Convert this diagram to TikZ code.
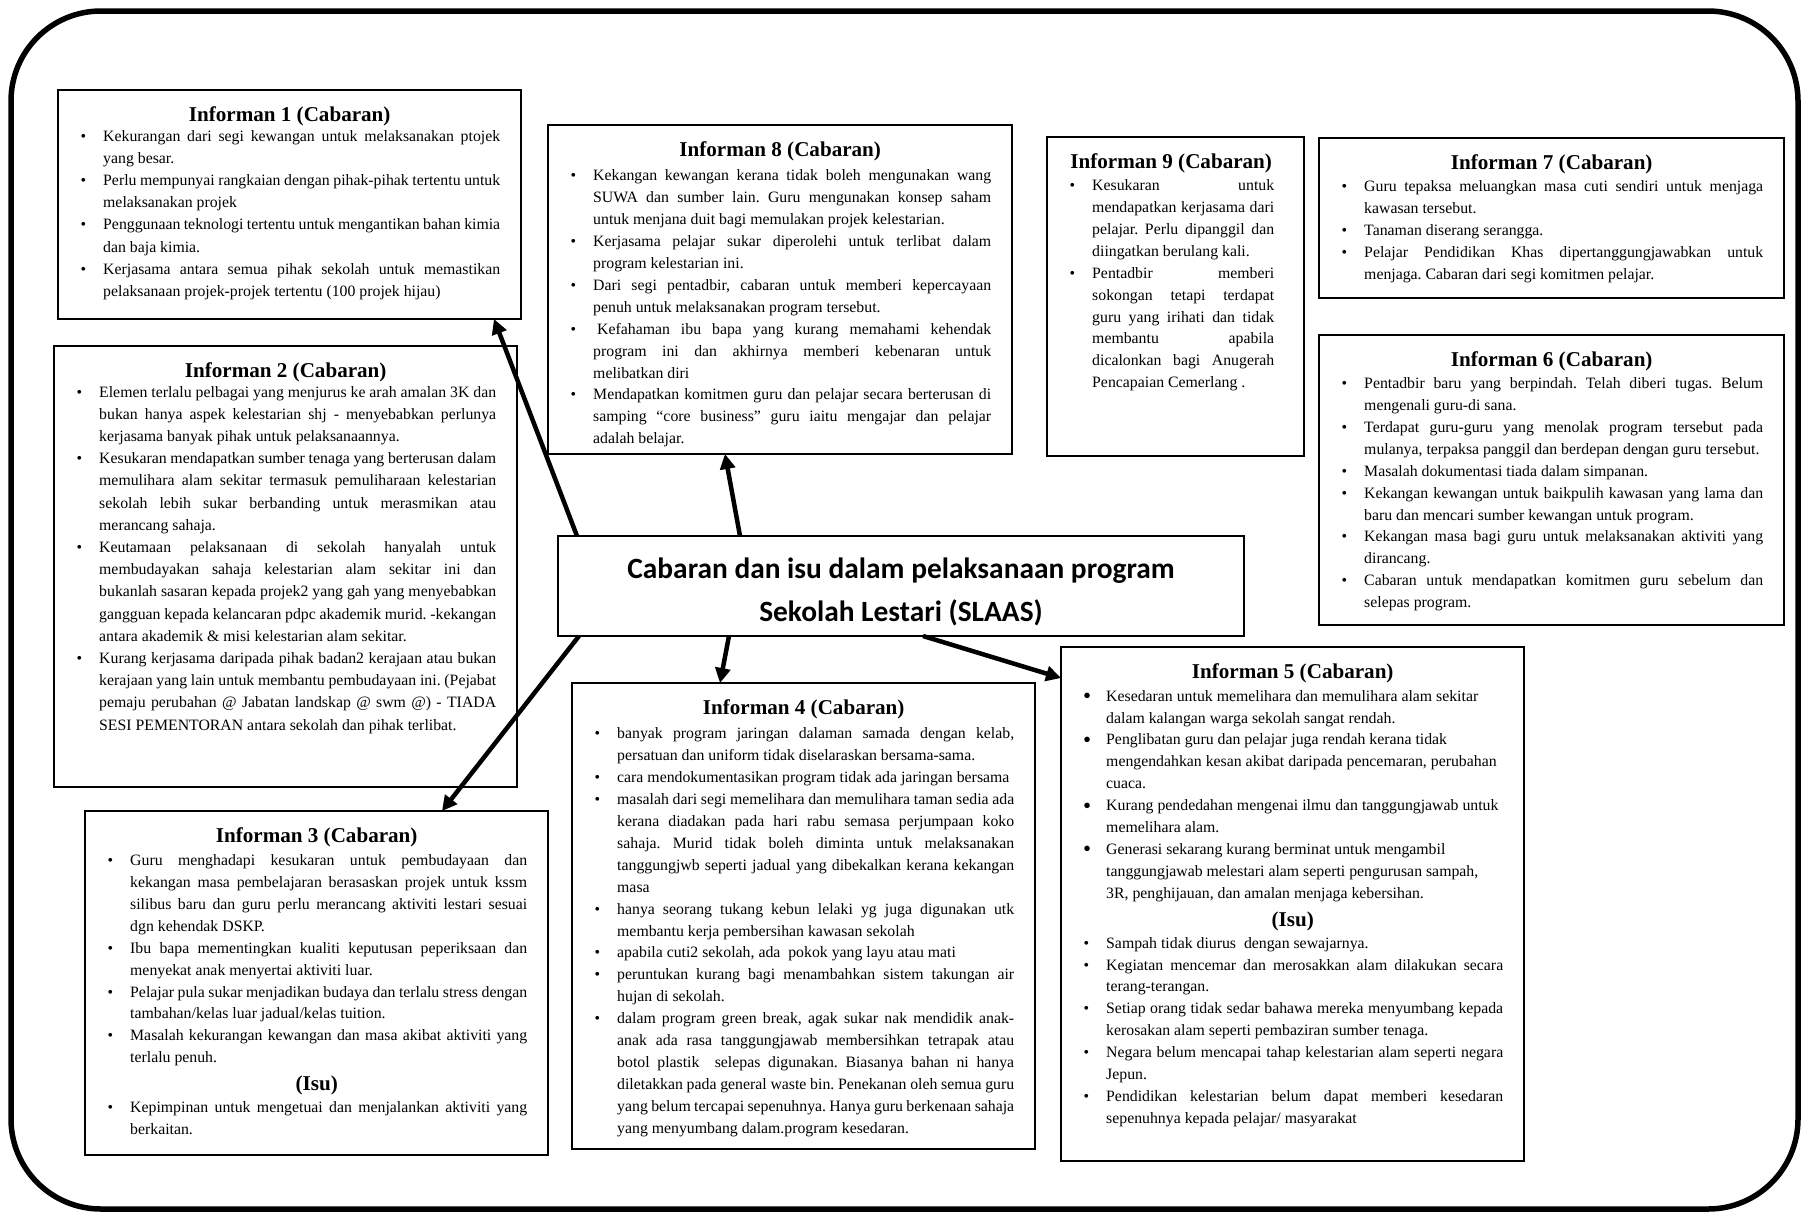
\documentclass[tikz,border=0pt]{standalone}
\usepackage{fontspec}
\setmainfont{Liberation Serif}
\newfontfamily\calib{Carlito}
\usetikzlibrary{arrows.meta}
\newcommand{\LB}{\linebreak}
\newcommand{\bodyset}{\frenchspacing\parindent=0pt\parskip=0pt\pretolerance=10000\tolerance=10000\hbadness=10000\hyphenpenalty=10000}
\newcommand{\bodyfont}{\fontsize{15.8}{21.9}\selectfont\bodyset}
\newcommand{\bodyfontB}{\fontsize{15.8}{22.2}\selectfont\bodyset}
\newenvironment{blist}{\begin{list}{\textbullet}{\setlength{\leftmargin}{24pt}\setlength{\labelwidth}{24pt}\setlength{\labelsep}{0pt}\setlength{\itemsep}{0pt}\setlength{\parsep}{0pt}\setlength{\topsep}{0pt}\setlength{\partopsep}{0pt}\setlength{\itemindent}{0pt}\renewcommand{\makelabel}[1]{\hspace{1.5pt}##1\hfil}}}{\end{list}}
\newenvironment{clist}{\begin{list}{\raisebox{-2.5pt}{\fontsize{23}{23}\selectfont\textbullet}}{\setlength{\leftmargin}{24pt}\setlength{\labelwidth}{24pt}\setlength{\labelsep}{0pt}\setlength{\itemsep}{0pt}\setlength{\parsep}{0pt}\setlength{\topsep}{0pt}\setlength{\partopsep}{0pt}\setlength{\itemindent}{0pt}\renewcommand{\makelabel}[1]{\hspace{1pt}##1\hfil}}}{\end{list}}
\newcommand{\ttl}[2][1pt]{\setlength{\linewidth}{\hsize}\setlength{\textwidth}{\hsize}\setlength{\columnwidth}{\hsize}\par{\centering\fontsize{21.1}{24}\selectfont\bfseries\rule{0pt}{15pt}#2\par}\vspace{#1}}
\newcommand{\isu}{{\centering\fontsize{21.1}{28}\selectfont\bfseries (Isu)\par}}
\begin{document}
\begin{tikzpicture}[x=1pt,y=-1pt,
  frame/.style={draw, line width=1.8pt, anchor=north west, inner sep=0pt, outer sep=0pt},
  txt/.style={anchor=north west, inner sep=0pt, align=justify, font=\bodyfont},
  arr/.style={line width=4.5pt, -{Triangle[length=15pt,width=15pt]}}]
\useasboundingbox (0,0) rectangle (1809,1216);
\fill[white] (0,0) rectangle (1809,1216);
\draw[line width=5.5pt, rounded corners=90pt] (11,11) rectangle (1798,1209);

% frames
\node[frame, minimum width=463pt, minimum height=229pt] (i1) at (58,90) {};
\node[frame, minimum width=463pt, minimum height=441pt] (i2) at (54,346) {};
\node[frame, minimum width=463pt, minimum height=344pt] (i3) at (85,811) {};
\node[frame, minimum width=464pt, minimum height=329pt] (i8) at (548,125) {};
\node[frame, minimum width=257pt, minimum height=319pt] (i9) at (1047,137) {};
\node[frame, minimum width=465pt, minimum height=160pt] (i7) at (1319,138) {};
\node[frame, minimum width=465pt, minimum height=290pt] (i6) at (1319,335) {};
\node[frame, minimum width=463pt, minimum height=466pt] (i4) at (572,683) {};
\node[frame, minimum width=463pt, minimum height=514pt] (i5) at (1061,647) {};
\node[frame, minimum width=686pt, minimum height=100pt] (c) at (558,536) {};
\node[font=\calib\bfseries\fontsize{29.4}{43}\selectfont, align=center] (ct) at ([yshift=-6pt]c.center) {Cabaran dan isu dalam pelaksanaan program\\Sekolah Lestari (SLAAS)};

% texts
\node[txt, font=\bodyfontB, text width=421pt] (t1) at ([xshift=21pt,yshift=-7pt]i1.north west) {\ttl[-2.3pt]{Informan 1 (Cabaran)}
\begin{blist}
\item Kekurangan dari segi kewangan untuk melaksanakan ptojek\LB yang besar.
\item Perlu mempunyai rangkaian dengan pihak-pihak tertentu untuk\LB melaksanakan projek
\item Penggunaan teknologi tertentu untuk mengantikan bahan kimia\LB dan baja kimia.
\item Kerjasama antara semua pihak sekolah untuk memastikan\LB pelaksanaan projek-projek tertentu (100 projek hijau)
\end{blist}};

\node[txt, font=\bodyfontB, text width=421pt] (t2) at ([xshift=21pt,yshift=-7pt]i2.north west) {\ttl[-2.3pt]{Informan 2 (Cabaran)}
\begin{blist}
\item Elemen terlalu pelbagai yang menjurus ke arah amalan 3K dan\LB bukan hanya aspek kelestarian shj - menyebabkan perlunya\LB kerjasama banyak pihak untuk pelaksanaannya.
\item Kesukaran mendapatkan sumber tenaga yang berterusan dalam\LB memulihara alam sekitar termasuk pemuliharaan kelestarian\LB sekolah lebih sukar berbanding untuk merasmikan atau\LB merancang sahaja.
\item Keutamaan pelaksanaan di sekolah hanyalah untuk\LB membudayakan sahaja kelestarian alam sekitar ini dan\LB bukanlah sasaran kepada projek2 yang gah yang menyebabkan\LB gangguan kepada kelancaran pdpc akademik murid. -kekangan\LB antara akademik \& misi kelestarian alam sekitar.
\item Kurang kerjasama daripada pihak badan2 kerajaan atau bukan\LB kerajaan yang lain untuk membantu pembudayaan ini. (Pejabat\LB pemaju perubahan @ Jabatan landskap @ swm @) - TIADA\LB SESI PEMENTORAN antara sekolah dan pihak terlibat.
\end{blist}};

\node[txt, text width=421pt] (t3) at ([xshift=21pt,yshift=-7pt]i3.north west) {\ttl[1.5pt]{Informan 3 (Cabaran)}
\begin{blist}
\item Guru menghadapi kesukaran untuk pembudayaan dan\LB kekangan masa pembelajaran berasaskan projek untuk kssm\LB silibus baru dan guru perlu merancang aktiviti lestari sesuai\LB dgn kehendak DSKP.
\item Ibu bapa mementingkan kualiti keputusan peperiksaan dan\LB menyekat anak menyertai aktiviti luar.
\item Pelajar pula sukar menjadikan budaya dan terlalu stress dengan\LB tambahan/kelas luar jadual/kelas tuition.
\item Masalah kekurangan kewangan dan masa akibat aktiviti yang\LB terlalu penuh.
\end{blist}
\isu
\begin{blist}
\item Kepimpinan untuk mengetuai dan menjalankan aktiviti yang\LB berkaitan.
\end{blist}};

\node[txt, text width=422pt] (t8) at ([xshift=21pt,yshift=-7pt]i8.north west) {\ttl[2.8pt]{Informan 8 (Cabaran)}
\begin{blist}
\item Kekangan kewangan kerana tidak boleh mengunakan wang\LB SUWA dan sumber lain. Guru mengunakan konsep saham\LB untuk menjana duit bagi memulakan projek kelestarian.
\item Kerjasama pelajar sukar diperolehi untuk terlibat dalam\LB program kelestarian ini.
\item Dari segi pentadbir, cabaran untuk memberi kepercayaan\LB penuh untuk melaksanakan program tersebut.
\item \hspace{4pt}Kefahaman ibu bapa yang kurang memahami kehendak\LB program ini dan akhirnya memberi kebenaran untuk\LB melibatkan diri
\item Mendapatkan komitmen guru dan pelajar secara berterusan di\LB samping “core business” guru iaitu mengajar dan pelajar\LB adalah belajar.
\end{blist}};

\node[txt, text width=206pt] (t9) at ([xshift=21pt,yshift=-7pt]i9.north west) {\ttl[0.5pt]{Informan 9 (Cabaran)}
\begin{blist}
\item Kesukaran untuk\LB mendapatkan kerjasama dari\LB pelajar. Perlu dipanggil dan\LB diingatkan berulang kali.
\item Pentadbir memberi\LB sokongan tetapi terdapat\LB guru yang irihati dan tidak\LB membantu apabila\LB dicalonkan bagi Anugerah\LB Pencapaian Cemerlang .
\end{blist}};

\node[txt, text width=423pt] (t7) at ([xshift=21pt,yshift=-7pt]i7.north west) {\ttl[0.5pt]{Informan 7 (Cabaran)}
\begin{blist}
\item Guru tepaksa meluangkan masa cuti sendiri untuk menjaga\LB kawasan tersebut.
\item Tanaman diserang serangga.
\item Pelajar Pendidikan Khas dipertanggungjawabkan untuk\LB menjaga. Cabaran dari segi komitmen pelajar.
\end{blist}};

\node[txt, text width=423pt] (t6) at ([xshift=21pt,yshift=-7pt]i6.north west) {\ttl[0.5pt]{Informan 6 (Cabaran)}
\begin{blist}
\item Pentadbir baru yang berpindah. Telah diberi tugas. Belum\LB mengenali guru-di sana.
\item Terdapat guru-guru yang menolak program tersebut pada\LB mulanya, terpaksa panggil dan berdepan dengan guru tersebut.
\item Masalah dokumentasi tiada dalam simpanan.
\item Kekangan kewangan untuk baikpulih kawasan yang lama dan\LB baru dan mencari sumber kewangan untuk program.
\item Kekangan masa bagi guru untuk melaksanakan aktiviti yang\LB dirancang.
\item Cabaran untuk mendapatkan komitmen guru sebelum dan\LB selepas program.
\end{blist}};

\node[txt, text width=421pt] (t4) at ([xshift=21pt,yshift=-7pt]i4.north west) {\ttl[2.8pt]{Informan 4 (Cabaran)}
\begin{blist}
\item banyak program jaringan dalaman samada dengan kelab,\LB persatuan dan uniform tidak diselaraskan bersama-sama.
\item cara mendokumentasikan program tidak ada jaringan bersama
\item masalah dari segi memelihara dan memulihara taman sedia ada\LB kerana diadakan pada hari rabu semasa perjumpaan koko\LB sahaja. Murid tidak boleh diminta untuk melaksanakan\LB tanggungjwb seperti jadual yang dibekalkan kerana kekangan\LB masa
\item hanya seorang tukang kebun lelaki yg juga digunakan utk\LB membantu kerja pembersihan kawasan sekolah
\item apabila cuti2 sekolah, ada\ \ pokok yang layu atau mati
\item peruntukan kurang bagi menambahkan sistem takungan air\LB hujan di sekolah.
\item dalam program green break, agak sukar nak mendidik anak-\LB anak ada rasa tanggungjawab membersihkan tetrapak atau\LB botol plastik\ \ selepas digunakan. Biasanya bahan ni hanya\LB diletakkan pada general waste bin. Penekanan oleh semua guru\LB yang belum tercapai sepenuhnya. Hanya guru berkenaan sahaja\LB yang menyumbang dalam.program kesedaran.
\end{blist}};

\node[txt, text width=421pt] (t5) at ([xshift=21pt,yshift=-7pt]i5.north west) {\ttl[1pt]{Informan 5 (Cabaran)}
\begin{clist}\raggedright
\item Kesedaran untuk memelihara dan memulihara alam sekitar\newline dalam kalangan warga sekolah sangat rendah.
\item Penglibatan guru dan pelajar juga rendah kerana tidak\newline mengendahkan kesan akibat daripada pencemaran, perubahan\newline cuaca.
\item Kurang pendedahan mengenai ilmu dan tanggungjawab untuk\newline memelihara alam.
\item Generasi sekarang kurang berminat untuk mengambil\newline tanggungjawab melestari alam seperti pengurusan sampah,\newline 3R, penghijauan, dan amalan menjaga kebersihan.
\end{clist}
\isu
\begin{blist}
\item Sampah tidak diurus\ \ dengan sewajarnya.
\item Kegiatan mencemar dan merosakkan alam dilakukan secara\LB terang-terangan.
\item Setiap orang tidak sedar bahawa mereka menyumbang kepada\LB kerosakan alam seperti pembaziran sumber tenaga.
\item Negara belum mencapai tahap kelestarian alam seperti negara\LB Jepun.
\item Pendidikan kelestarian belum dapat memberi kesedaran\LB sepenuhnya kepada pelajar/ masyarakat
\end{blist}};

% arrows
\draw[arr] ([xshift=19pt]c.north west) -- ([xshift=436pt]i1.south west);
\draw[arr] ([xshift=182pt]c.north west) -- ([xshift=177pt]i8.south west);
\draw[arr] ([xshift=21pt]c.south west) -- ([xshift=357pt]i3.north west);
\draw[arr] ([xshift=171pt]c.south west) -- ([xshift=148pt]i4.north west);
\draw[arr] ([xshift=365pt]c.south west) -- ([yshift=-31pt]i5.north west);
\end{tikzpicture}
\end{document}
